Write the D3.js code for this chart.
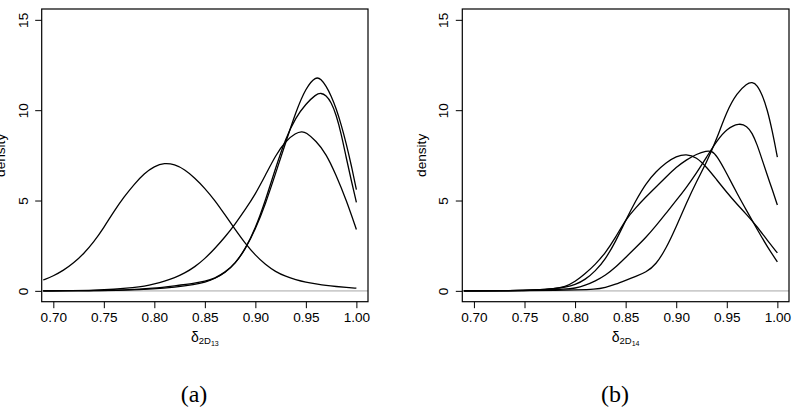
<!DOCTYPE html>
<html>
<head>
<meta charset="utf-8">
<script src="https://cdn.jsdelivr.net/npm/d3@7"></script>
<style>
  html, body { margin: 0; padding: 0; background: #fff; }
  svg { display: block; }
  .tick-label { font-family: "Liberation Sans", Arial, sans-serif; font-size: 13.6px; fill: #000; }
  .caption { font-family: "Liberation Serif", "Times New Roman", serif; font-size: 24px; fill: #000; }
</style>
</head>
<body>
<svg id="chart" width="794" height="414"></svg>
<script>
// density curves, [delta, density]
// panel (a): delta_2D13
var a1 = [[0.69,0.6],[0.70,0.82],[0.71,1.13],[0.72,1.53],[0.73,2.05],[0.74,2.7],[0.75,3.5],[0.76,4.4],[0.77,5.2],[0.78,5.9],[0.79,6.5],[0.80,6.9],[0.81,7.08],[0.82,7.0],[0.83,6.72],[0.84,6.25],[0.85,5.68],[0.86,5.0],[0.87,4.2],[0.88,3.4],[0.89,2.62],[0.90,1.97],[0.91,1.45],[0.92,1.06],[0.93,0.8],[0.94,0.62],[0.95,0.48],[0.96,0.39],[0.97,0.3],[0.98,0.24],[0.99,0.19],[1.00,0.15]];
var a2 = [[0.69,0],[0.72,0.01],[0.74,0.03],[0.76,0.08],[0.78,0.18],[0.79,0.26],[0.80,0.38],[0.81,0.53],[0.82,0.72],[0.83,0.98],[0.84,1.32],[0.85,1.78],[0.86,2.35],[0.87,2.98],[0.88,3.7],[0.89,4.5],[0.90,5.35],[0.91,6.4],[0.92,7.5],[0.93,8.3],[0.94,8.74],[0.946,8.82],[0.95,8.78],[0.96,8.3],[0.97,7.6],[0.98,6.4],[0.99,5.03],[1.00,3.4]];
var a3 = [[0.69,0],[0.74,0.01],[0.77,0.03],[0.80,0.1],[0.82,0.2],[0.84,0.35],[0.85,0.47],[0.86,0.68],[0.87,1.0],[0.88,1.5],[0.89,2.3],[0.90,3.4],[0.91,4.8],[0.92,6.5],[0.93,8.2],[0.94,9.9],[0.95,11.25],[0.96,11.88],[0.965,11.72],[0.97,11.35],[0.975,10.8],[0.98,10.1],[0.985,9.2],[0.99,8.15],[0.995,6.95],[1.00,5.6]];
var a4 = [[0.69,0],[0.74,0.01],[0.77,0.04],[0.80,0.14],[0.82,0.28],[0.84,0.42],[0.85,0.52],[0.86,0.7],[0.87,1.02],[0.88,1.52],[0.89,2.3],[0.90,3.45],[0.91,5.0],[0.92,6.8],[0.93,8.45],[0.94,9.6],[0.95,10.35],[0.96,10.88],[0.965,10.96],[0.97,10.82],[0.975,10.45],[0.98,9.75],[0.985,8.7],[0.99,7.35],[0.995,6.1],[1.00,4.9]];

// panel (b): delta_2D14
var b1 = [[0.69,0],[0.76,0.01],[0.78,0.02],[0.80,0.05],[0.82,0.08],[0.83,0.18],[0.84,0.36],[0.85,0.58],[0.86,0.8],[0.87,1.02],[0.88,1.45],[0.89,2.35],[0.90,3.55],[0.91,4.85],[0.92,6.05],[0.93,7.1],[0.94,8.4],[0.95,9.95],[0.96,10.95],[0.97,11.48],[0.975,11.56],[0.98,11.4],[0.985,10.85],[0.99,10.05],[0.995,8.85],[1.00,7.4]];
var b2 = [[0.69,0],[0.75,0.02],[0.77,0.05],[0.79,0.09],[0.80,0.14],[0.81,0.3],[0.82,0.54],[0.83,0.85],[0.84,1.3],[0.85,1.85],[0.86,2.4],[0.87,2.95],[0.88,3.6],[0.89,4.3],[0.90,5.0],[0.91,5.72],[0.92,6.52],[0.93,7.4],[0.94,8.3],[0.95,8.98],[0.9623,9.3],[0.97,9.12],[0.975,8.75],[0.98,8.1],[0.985,7.25],[0.99,6.4],[0.995,5.6],[1.00,4.75]];
var b3 = [[0.69,0],[0.74,0.01],[0.76,0.04],[0.78,0.12],[0.79,0.2],[0.80,0.33],[0.81,0.62],[0.82,1.09],[0.83,1.75],[0.84,2.72],[0.85,3.9],[0.86,5.0],[0.87,5.95],[0.88,6.6],[0.89,7.1],[0.90,7.45],[0.91,7.58],[0.92,7.4],[0.93,6.85],[0.94,6.15],[0.95,5.45],[0.96,4.8],[0.97,4.2],[0.98,3.55],[0.99,2.8],[1.00,2.1]];
var b4 = [[0.69,0],[0.74,0.01],[0.76,0.05],[0.78,0.12],[0.79,0.22],[0.80,0.5],[0.81,0.95],[0.82,1.46],[0.83,2.1],[0.84,2.95],[0.85,3.95],[0.86,4.6],[0.87,5.2],[0.88,5.75],[0.89,6.3],[0.90,6.85],[0.91,7.25],[0.92,7.57],[0.93,7.75],[0.935,7.74],[0.94,7.5],[0.95,6.5],[0.96,5.4],[0.97,4.4],[0.98,3.4],[0.99,2.45],[1.00,1.6]];

var xTicks = [0.70, 0.75, 0.80, 0.85, 0.90, 0.95, 1.00];
var yTicks = [0, 5, 10, 15];
var xDomain = [0.6885, 1.0115];
var yDomain = [-0.6, 15.6];

var svg = d3.select("#chart");

drawPanel({ left: 41.7, right: 368, sub: "13", caption: "(a)", captionX: 194, curves: [a1, a2, a3, a4] });
drawPanel({ left: 462.3, right: 789, sub: "14", caption: "(b)", captionX: 615, curves: [b1, b2, b3, b4] });

function drawPanel(p) {
    var top = 9, bottom = 301.7;

    var x = d3.scaleLinear().domain(xDomain).range([p.left, p.right]);
    var y = d3.scaleLinear().domain(yDomain).range([bottom, top]);

    var g = svg.append("g");

    // zero reference line
    g.append("line")
        .attr("x1", p.left).attr("x2", p.right)
        .attr("y1", y(0)).attr("y2", y(0))
        .attr("stroke", "#cccccc")
        .attr("stroke-width", 1.6);

    var line = d3.line()
        .x(function(d) { return x(d[0]); })
        .y(function(d) { return y(d[1]); })
        .curve(d3.curveBasis);

    g.selectAll("path.curve")
        .data(p.curves)
        .enter().append("path")
        .attr("class", "curve")
        .attr("fill", "none")
        .attr("stroke", "#000")
        .attr("stroke-width", 1.3)
        .attr("stroke-linejoin", "round")
        .attr("d", line);

    // x axis
    var xAxis = g.append("g")
        .attr("transform", "translate(0," + bottom + ")")
        .call(d3.axisBottom(x).tickValues(xTicks).tickSize(6.5).tickPadding(0).tickFormat(d3.format(".2f")));
    xAxis.select(".domain").remove();
    xAxis.selectAll("line").attr("stroke", "#000");
    xAxis.selectAll("text")
        .attr("class", "tick-label")
        .attr("font-size", null).attr("font-family", null)
        .attr("dy", null)
        .attr("y", 20.5);

    // y axis, labels rotated as in R
    var yAxis = g.append("g")
        .attr("transform", "translate(" + p.left + ",0)")
        .call(d3.axisLeft(y).tickValues(yTicks).tickSize(6.5).tickFormat(d3.format("d")));
    yAxis.select(".domain").remove();
    yAxis.selectAll("line").attr("stroke", "#000");
    yAxis.selectAll("text")
        .attr("class", "tick-label")
        .attr("font-size", null).attr("font-family", null)
        .attr("x", null).attr("dy", null)
        .attr("text-anchor", "middle")
        .attr("transform", "translate(-14,0) rotate(-90)");

    g.append("text")
        .attr("class", "tick-label")
        .attr("font-size", "14px")
        .attr("text-anchor", "middle")
        .attr("transform", "translate(" + (p.left - 36.3) + "," + ((top + bottom) / 2) + ") rotate(-90)")
        .text("density");

    // frame
    g.append("rect")
        .attr("x", p.left).attr("y", top)
        .attr("width", p.right - p.left).attr("height", bottom - top)
        .attr("fill", "none")
        .attr("stroke", "#000")
        .attr("stroke-width", 1.2);

    // axis title: delta with nested subscripts
    var title = g.append("text")
        .attr("class", "tick-label")
        .attr("text-anchor", "middle")
        .attr("x", (p.left + p.right) / 2)
        .attr("y", 341.5);
    title.append("tspan").attr("font-size", "14px").text("δ");
    title.append("tspan").attr("font-size", "9.5px").attr("dy", 2).text("2D");
    title.append("tspan").attr("font-size", "7px").attr("dy", 2).text(p.sub);

    g.append("text")
        .attr("class", "caption")
        .attr("text-anchor", "middle")
        .attr("x", p.captionX)
        .attr("y", 402)
        .text(p.caption);
}
</script>
</body>
</html>
